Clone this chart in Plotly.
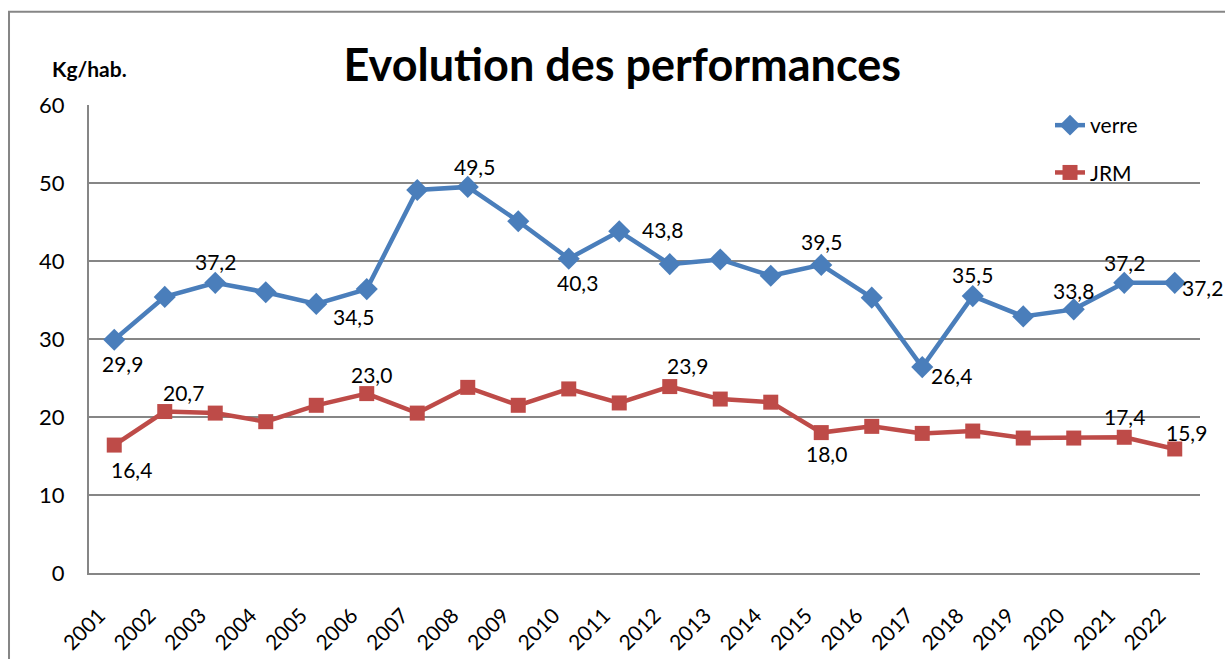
import plotly.graph_objects as go

years = [str(y) for y in range(2001, 2023)]
verre = [29.9, 35.4, 37.2, 36.0, 34.5, 36.4, 49.1, 49.5, 45.1, 40.3, 43.8,
         39.6, 40.2, 38.1, 39.5, 35.3, 26.4, 35.5, 32.9, 33.8, 37.2, 37.2]
jrm = [16.4, 20.7, 20.5, 19.4, 21.5, 23.0, 20.5, 23.8, 21.5, 23.6, 21.8,
       23.9, 22.3, 21.9, 18.0, 18.8, 17.9, 18.2, 17.3, 17.3, 17.4, 15.9]
y_ticks = [0, 10, 20, 30, 40, 50, 60]

# labelled points and label offsets (px)
verre_labels = {"2001": (8, 24), "2003": (0, -21), "2005": (37, 13), "2008": (7, -20),
                "2010": (9, 24), "2011": (43, -2), "2015": (0, -23), "2017": (29, 8),
                "2018": (0, -22), "2020": (0, -19), "2021": (0, -20), "2022": (28, 5)}
jrm_labels = {"2001": (17, 24), "2002": (19, -19), "2006": (5, -19), "2012": (18, -21),
              "2015": (5, 21), "2021": (0, -21), "2022": (12, -16)}

BLUE = "#4A7EBB"
RED = "#BE4B48"
GRID = "#868686"
FONT = "Lato"

fig = go.Figure()
fig.add_trace(go.Scatter(x=years, y=verre, name="verre", mode="lines+markers",
                         line=dict(color=BLUE, width=4.5),
                         marker=dict(symbol="diamond", size=17, color=BLUE),
                         legendgroup="a"))
fig.add_trace(go.Scatter(x=years, y=jrm, name="JRM", mode="lines+markers",
                         line=dict(color=RED, width=4.5),
                         marker=dict(symbol="square", size=15, color=RED),
                         legendgroup="b"))

def fmt(v):
    return f"{v:.1f}".replace(".", ",")

ann = []
for series, labels in ((verre, verre_labels), (jrm, jrm_labels)):
    for yr, (dx, dy) in labels.items():
        i = years.index(yr)
        v = series[i]
        ann.append(dict(x=i, y=v, xref="x", yref="y", text=fmt(v), showarrow=False,
                        xanchor="center", yanchor="middle",
                        xshift=dx, yshift=-dy, font=dict(family=FONT, size=21, color="#000")))

ann.append(dict(x=0.0, y=(573 - 68) / 468, xref="paper", yref="paper", text="<b>Kg/hab.</b>",
                xanchor="center", yanchor="middle",
                showarrow=False, font=dict(family=FONT, size=21, color="#000")))

fig.update_layout(
    width=1225, height=659,
    margin=dict(l=89, r=25, t=105, b=86),
    paper_bgcolor="white", plot_bgcolor="white",
    title=dict(text="<b>Evolution des performances</b>", x=0.48, xref="paper",
               y=1 - 65 / 659, yanchor="middle", xanchor="center",
               font=dict(family=FONT, size=45, color="#000")),
    xaxis=dict(type="category", range=[-0.5, 21.5], showgrid=False, automargin=False,
               showline=True, linecolor=GRID, linewidth=2, ticks="",
               tickangle=-45, ticklabelshift=-15, ticklabelstandoff=20,
               tickfont=dict(family=FONT, size=21, color="#000")),
    yaxis=dict(range=[0, 60], tickvals=y_ticks, showgrid=True, gridcolor=GRID,
               gridwidth=1.5, showline=True, linecolor=GRID, linewidth=2, automargin=False,
               zeroline=False, ticks="", ticklen=0, ticklabelstandoff=18,
               tickfont=dict(family=FONT, size=22, color="#000")),
    legend=dict(x=0.865, y=1.0, xanchor="left", yanchor="top",
                font=dict(family=FONT, size=21, color="#000"),
                traceorder="grouped", tracegroupgap=17, bgcolor="rgba(0,0,0,0)"),
    annotations=ann,
    shapes=[dict(type="rect", xref="paper", yref="paper", x0=-0.072, x1=1.05,
                 y0=-0.3, y1=1.199, line=dict(color=GRID, width=2))],
)

fig.write_html("out.html", config={"displayModeBar": False},
               post_script="document.body.style.margin='0';")
